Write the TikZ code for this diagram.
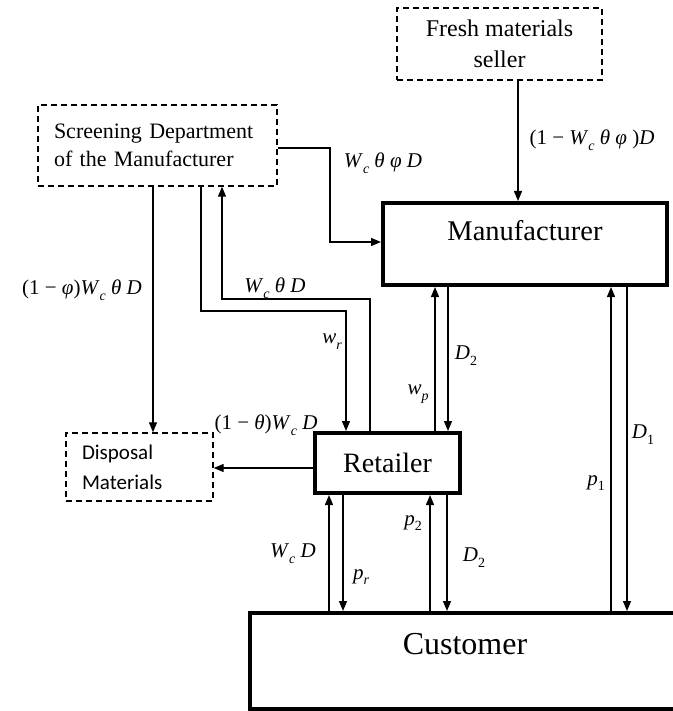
\documentclass[tikz,border=0pt]{standalone}
\usepackage{fontspec}
\setmainfont{Liberation Serif}
\newfontfamily\calib{Carlito}
\usetikzlibrary{arrows.meta}
\newcommand\vi[1]{\textit{#1}}
\newcommand\sbs[1]{\raisebox{-0.28em}{\fontsize{14}{14}\selectfont\textit{#1}}}
\newcommand\sbn[1]{\raisebox{-0.28em}{\fontsize{14}{14}\selectfont #1}}
\newcommand\Wc{\vi{W}\sbs{c}}
\newcommand\mns{\ −\ }
\begin{document}
\begin{tikzpicture}[x=1pt,y=-1pt,
  thickbox/.style={draw,line width=4pt,inner sep=0pt},
  dashbox/.style={draw,line width=1.4pt,dash pattern=on 6pt off 4pt,inner sep=0pt},
  conn/.style={line width=1.3pt},
  arr/.style={conn,-{Triangle[length=10pt,width=8pt]}},
  lab/.style={font=\fontsize{21}{23}\selectfont,inner sep=0pt}
]
\useasboundingbox (0,0) rectangle (672,711);

% boxes
\node[dashbox,minimum width=205pt,minimum height=72pt,align=center,
  font=\fontsize{24}{31}\selectfont] (fresh) at (499.5,44) {Fresh materials\\seller};
\node[dashbox,minimum width=239pt,minimum height=81pt,text width=207pt,align=left,
  font=\fontsize{22}{28}\selectfont] (scr) at (157.5,145.5) {Screening Department\\of the Manufacturer};
\node[thickbox,minimum width=284pt,minimum height=82pt] (man) at (525,244) {};
\node[font=\fontsize{28.5}{30}\selectfont,inner sep=0pt] (mantext) at (525,231) {Manufacturer};
\node[thickbox,minimum width=145pt,minimum height=60pt,font=\fontsize{28}{30}\selectfont] (ret) at (387.5,463) {Retailer};
\node[dashbox,minimum width=147pt,minimum height=68pt,text width=115pt,align=left,
  font=\calib\fontsize{21}{30}\selectfont] (disp) at (139.5,467) {Disposal\\Materials};
\node[thickbox,minimum width=440pt,minimum height=96pt] (cust) at (470,661) {};
\node[font=\fontsize{32}{34}\selectfont,inner sep=0pt] (custtext) at (465,644) {Customer};

% bend coordinates
\coordinate (b1) at (330,200);
\coordinate (b2) at (300,311);
\coordinate (b3) at (300,299);

% connectors
\draw[arr] ([xshift=18.5pt]fresh.south) -- ([xshift=18.5pt]fresh.south |- man.north);
\draw[arr] ([yshift=-2.5pt]scr.east) -| (b1) |- ([yshift=2pt]man.west);
\draw[arr] ([xshift=-4.5pt]scr.south) -- ([xshift=-4.5pt]scr.south |- disp.north);
\draw[arr] ([xshift=43.5pt]scr.south) |- (b2) -| ([xshift=-41.5pt]ret.north);
\draw[arr] ([xshift=-17.5pt]ret.north) |- (b3) -| ([xshift=64.5pt]scr.south);
\draw[arr] ([xshift=47.5pt]ret.north) -- ([xshift=47.5pt]ret.north |- man.south);
\draw[arr] ([xshift=-77pt]man.south) -- ([xshift=-77pt]man.south |- ret.north);
\draw[arr] ([yshift=-5pt]ret.west) -- ([yshift=-5pt]ret.west -| disp.east);
\draw[arr] ([xshift=-58.5pt]ret.south |- cust.north) -- ([xshift=-58.5pt]ret.south);
\draw[arr] ([xshift=-44.5pt]ret.south) -- ([xshift=-44.5pt]ret.south |- cust.north);
\draw[arr] ([xshift=42.5pt]ret.south |- cust.north) -- ([xshift=42.5pt]ret.south);
\draw[arr] ([xshift=59.5pt]ret.south) -- ([xshift=59.5pt]ret.south |- cust.north);
\draw[arr] ([xshift=86pt]man.south |- cust.north) -- ([xshift=86pt]man.south);
\draw[arr] ([xshift=102pt]man.south) -- ([xshift=102pt]man.south |- cust.north);

% labels
\node[lab] (l1) at (592,140) {(1\mns\Wc\ \vi{θ} \vi{φ} )\vi{D}};
\node[lab] (l2) at (383,163) {\Wc\ \vi{θ} \vi{φ} \vi{D}};
\node[lab] (l3) at (82,290) {(1\mns\vi{φ})\Wc\ \vi{θ} \vi{D}};
\node[lab] (l4) at (275,288) {\Wc\ \vi{θ} \vi{D}};
\node[lab] (l5) at (332,342) {\vi{w}\sbs{r}};
\node[lab] (l6) at (418,394) {\vi{w}\sbs{p}};
\node[lab] (l7) at (466,356) {\vi{D}\sbn{2}};
\node[lab] (l8) at (266,425) {(1\mns\vi{θ})\Wc\ \vi{D}};
\node[lab] (l9) at (293,554) {\Wc\ \vi{D}};
\node[lab] (l10) at (361,577) {\vi{p}\sbs{r}};
\node[lab] (l11) at (413,523) {\vi{p}\sbn{2}};
\node[lab] (l12) at (474,558) {\vi{D}\sbn{2}};
\node[lab] (l13) at (643,435) {\vi{D}\sbn{1}};
\node[lab] (l14) at (596,483) {\vi{p}\sbn{1}};
\end{tikzpicture}
\end{document}
